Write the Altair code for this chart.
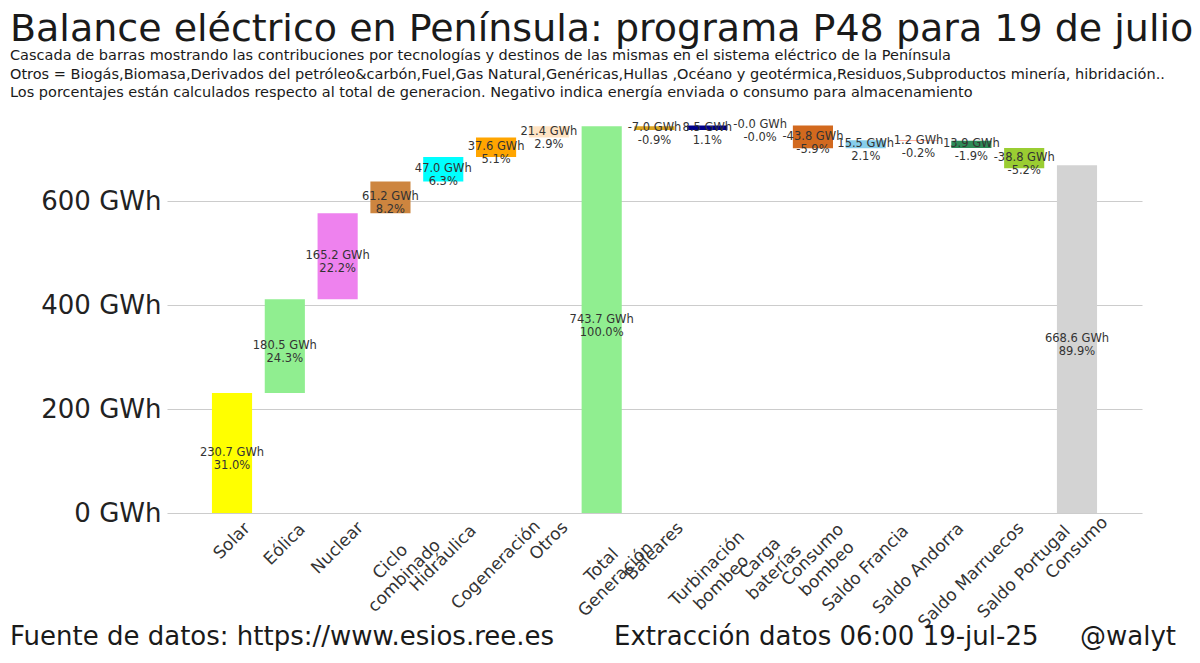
import math
import altair as alt
import pandas as pd

# ---------------- data ----------------
CATEGORIES = ["Solar", "Eólica", "Nuclear", "Ciclo\ncombinado", "Hidráulica",
              "Cogeneración", "Otros", "Total\nGeneración", "Baleares",
              "Turbinación\nbombeo", "Carga\nbaterías", "Consumo\nbombeo",
              "Saldo Francia", "Saldo Andorra", "Saldo Marruecos",
              "Saldo Portugal", "Consumo"]
KIND = ["step"] * 7 + ["total"] + ["step"] * 8 + ["total"]
GWH = [230.7, 180.5, 165.2, 61.2, 47.0, 37.6, 21.4, 743.7,
       -7.0, 8.5, -0.0, -43.8, 15.5, 1.2, 13.9, -38.8, 668.6]
PCT = [31.0, 24.3, 22.2, 8.2, 6.3, 5.1, 2.9, 100.0,
       -0.9, 1.1, -0.0, -5.9, 2.1, -0.2, -1.9, -5.2, 89.9]
COLORS = ["#FFFF00", "#90EE90", "#EE82EE", "#CD853F", "#00FFFF",
          "#FFA500", "#FFE4C4", "#90EE90", "#DAA520",
          "#00008B", "#800080", "#D2691E",
          "#87CEEB", "#FF6347", "#2E8B57",
          "#9ACD32", "#D3D3D3"]
Y_TICKS = [0, 200, 400, 600]

TITLE = "Balance eléctrico en Península: programa P48 para 19 de julio"
SUBTITLE = [
    "Cascada de barras mostrando las contribuciones por tecnologías y destinos de las mismas en el sistema eléctrico de la Península",
    "Otros = Biogás,Biomasa,Derivados del petróleo&carbón,Fuel,Gas Natural,Genéricas,Hullas ,Océano y geotérmica,Residuos,Subproductos minería, hibridación..",
    "Los porcentajes están calculados respecto al total de generacion. Negativo indica energía enviada o consumo para almacenamiento",
]
FOOT_LEFT = "Fuente de datos: https://www.esios.ree.es"
FOOT_MID = "Extracción datos 06:00 19-jul-25"
FOOT_RIGHT = "@walyt"

# ---------------- waterfall geometry from values ----------------
rows = []
running = 0.0
for cat, kind, v, p in zip(CATEGORIES, KIND, GWH, PCT):
    if kind == "total":
        start, end = 0.0, v
    else:
        delta = math.copysign(abs(v), p)
        start, end = running, running + delta
    running = end
    rows.append({"cat": cat, "start": start, "end": end,
                 "label": f"{v:.1f} GWh\n{p:.1f}%"})
df = pd.DataFrame(rows)

W, H = 975, 390
FONT = "DejaVu Sans"

xenc = alt.X("cat:N", sort=CATEGORIES,
             scale=alt.Scale(paddingInner=0.24, paddingOuter=0.851),
             axis=alt.Axis(labels=False, ticks=False, domain=False, grid=True,
                           gridColor="#cccccc", gridWidth=1.2, title=None))
xplain = alt.X("cat:N", sort=CATEGORIES, axis=None)

base = alt.Chart(df)

bars = base.mark_bar().encode(
    x=xenc,
    y=alt.Y("start:Q", scale=alt.Scale(domain=[0, 750], nice=False),
            axis=alt.Axis(values=Y_TICKS, labelExpr="datum.value + ' GWh'",
                          labelFontSize=26, labelFont=FONT, labelColor="#222222",
                          labelPadding=6, domain=False, ticks=False, grid=True,
                          gridColor="#cccccc", gridWidth=1.2, title=None)),
    y2="end:Q",
    color=alt.Color("cat:N", scale=alt.Scale(domain=CATEGORIES, range=COLORS),
                    legend=None),
)

bar_labels = base.transform_calculate(
    mid="(datum.start + datum.end) / 2"
).mark_text(lineBreak="\n", fontSize=11.5, lineHeight=13, font=FONT,
            color="#333333", align="center", baseline="middle").encode(
    x=xplain,
    y=alt.Y("mid:Q"),
    text="label:N",
)

x_labels = base.transform_calculate(
    nl="length(split(datum.cat, '\\n'))",
    ml="max(length(split(datum.cat, '\\n')[0]), length(peek(split(datum.cat, '\\n'))))",
).transform_calculate(
    ypix=f"{H} + 4 + 0.3535 * (datum.ml * 0.57 * 17 + datum.nl * 20)"
).mark_text(angle=315, align="center", baseline="middle", lineBreak="\n",
            fontSize=17, lineHeight=20, font=FONT, color="#333333").encode(
    x=xplain,
    y=alt.Y("ypix:Q", scale=None, axis=None),
    text="cat:N",
)


def footer(txt, xpos):
    return alt.Chart(alt.Data(values=[{"t": txt}])).mark_text(
        align="left", baseline="alphabetic", fontSize=26, font=FONT,
        color="#1a1a1a").encode(x=alt.value(xpos), y=alt.value(522), text="t:N")


chart = alt.layer(
    bars, bar_labels, x_labels,
    footer(FOOT_LEFT, -157), footer(FOOT_MID, 447), footer(FOOT_RIGHT, 913),
).properties(
    width=W, height=H,
    background="white",
    title=alt.TitleParams(text=TITLE, subtitle=SUBTITLE, anchor="start",
                          frame="group", dx=-157, offset=20, fontSize=38,
                          font=FONT, fontWeight="normal", color="#1a1a1a",
                          subtitleFont=FONT, subtitleFontSize=14.5,
                          subtitleColor="#1a1a1a", subtitleLineHeight=18.3,
                          subtitlePadding=0),
    autosize=alt.AutoSizeParams(type="none"),
    padding={"left": 159, "top": 115, "right": 50, "bottom": 142},
).configure_view(stroke=None)

chart.save("out.html", embed_options={"renderer": "svg", "actions": False})
